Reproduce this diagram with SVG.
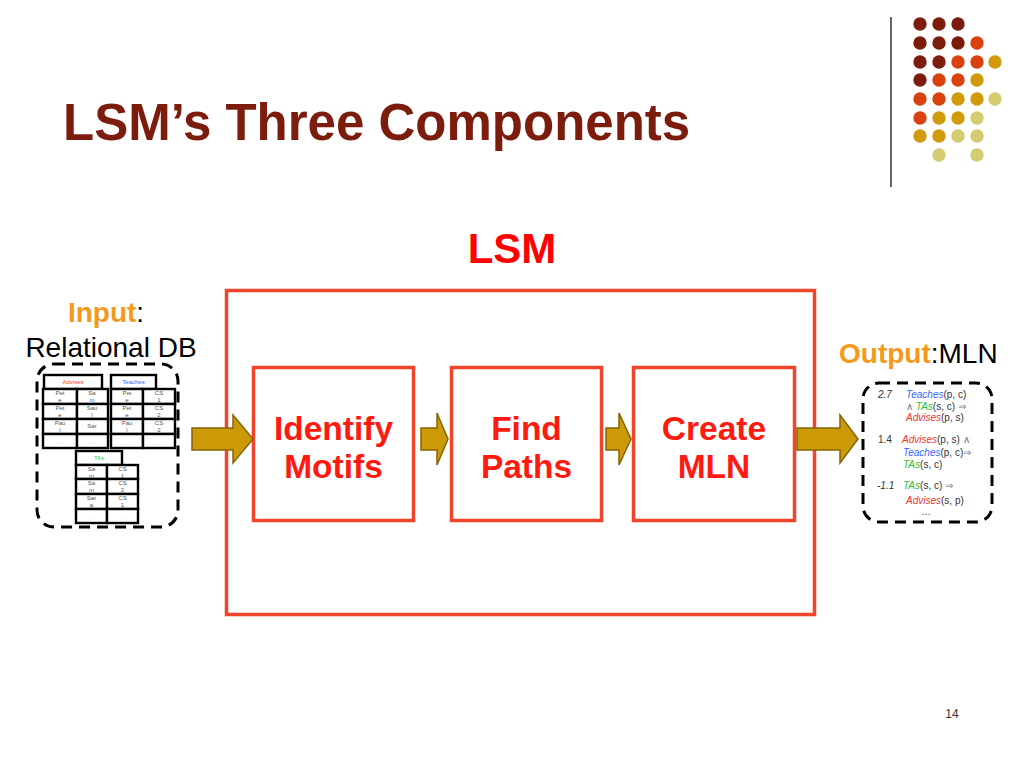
<svg xmlns="http://www.w3.org/2000/svg" width="1024" height="768" viewBox="0 0 1024 768">
<defs>
<style>
.t{font-family:"Liberation Sans",Arial,sans-serif}
.box{fill:none;stroke:#f0452a;stroke-width:3.5}
.lbl{font-family:"Liberation Sans",Arial,sans-serif;font-weight:bold;font-size:33.5px;fill:#ff1a10;text-anchor:middle}
.arr{fill:#cc9a06;stroke:#866400;stroke-width:1.5;stroke-linejoin:miter}
.dash{fill:none;stroke:#000;stroke-width:3;stroke-dasharray:11 7}
.cell{fill:#fff;stroke:#000;stroke-width:2.4}
.ct{font-family:"Liberation Sans",Arial,sans-serif;font-size:6px;fill:#555;text-anchor:middle}
.m{font-family:"Liberation Sans",Arial,sans-serif;font-size:10px;fill:#333}
.d1{fill:#7b1c0c}.d2{fill:#d9420f}.d3{fill:#d19a0a}.d4{fill:#d3cc70}
</style>
</defs>
<rect width="1024" height="768" fill="#fff"/>

<g id="decor">
<line x1="891" y1="17" x2="891" y2="187" stroke="#333" stroke-width="1.5"/>
<circle class="d1" cx="920" cy="24" r="6.7"/><circle class="d1" cx="939" cy="24" r="6.7"/><circle class="d1" cx="958" cy="24" r="6.7"/>
<circle class="d1" cx="920" cy="43" r="6.7"/><circle class="d1" cx="939" cy="43" r="6.7"/><circle class="d1" cx="958" cy="43" r="6.7"/><circle class="d2" cx="977" cy="43" r="6.7"/>
<circle class="d1" cx="920" cy="62" r="6.7"/><circle class="d1" cx="939" cy="62" r="6.7"/><circle class="d2" cx="958" cy="62" r="6.7"/><circle class="d2" cx="977" cy="62" r="6.7"/><circle class="d3" cx="995" cy="62" r="6.7"/>
<circle class="d1" cx="920" cy="80" r="6.7"/><circle class="d2" cx="939" cy="80" r="6.7"/><circle class="d2" cx="958" cy="80" r="6.7"/><circle class="d3" cx="977" cy="80" r="6.7"/>
<circle class="d2" cx="920" cy="99" r="6.7"/><circle class="d2" cx="939" cy="99" r="6.7"/><circle class="d3" cx="958" cy="99" r="6.7"/><circle class="d3" cx="977" cy="99" r="6.7"/><circle class="d4" cx="995" cy="99" r="6.7"/>
<circle class="d2" cx="920" cy="118" r="6.7"/><circle class="d3" cx="939" cy="118" r="6.7"/><circle class="d3" cx="958" cy="118" r="6.7"/><circle class="d4" cx="977" cy="118" r="6.7"/>
<circle class="d3" cx="920" cy="136" r="6.7"/><circle class="d3" cx="939" cy="136" r="6.7"/><circle class="d4" cx="958" cy="136" r="6.7"/><circle class="d4" cx="977" cy="136" r="6.7"/>
<circle class="d4" cx="939" cy="155" r="6.7"/><circle class="d4" cx="977" cy="155" r="6.7"/>
</g>

<g id="title">
<text class="t" x="63" y="140" font-size="51" font-weight="bold" fill="#7b1c0c">LSM’s Three Components</text>
</g>

<g id="lsm">
<text class="t" x="512" y="263" font-size="42" font-weight="bold" fill="#ff0000" text-anchor="middle">LSM</text>
<rect class="box" x="226.5" y="290.5" width="588" height="324"/>
</g>

<g id="input">
<text class="t" x="106" y="322" font-size="28" text-anchor="middle"><tspan font-weight="bold" fill="#f39a1c">Input</tspan><tspan fill="#000">:</tspan></text>
<text class="t" x="111" y="357" font-size="28" text-anchor="middle" fill="#000">Relational DB</text>
<rect class="dash" x="37" y="364" width="141" height="163" rx="17"/>
<g id="advises">
<rect class="cell" x="44" y="375" width="58" height="14"/>
<text class="ct" x="73" y="384" style="fill:#ff3333">Advises</text>
<rect class="cell" x="43" y="389" width="34" height="15"/><rect class="cell" x="77" y="389" width="31" height="15"/>
<rect class="cell" x="43" y="404" width="34" height="15"/><rect class="cell" x="77" y="404" width="31" height="15"/>
<rect class="cell" x="43" y="419" width="34" height="15"/><rect class="cell" x="77" y="419" width="31" height="15"/>
<rect class="cell" x="43" y="434" width="34" height="14"/><rect class="cell" x="77" y="434" width="31" height="14"/>
<text class="ct" x="60" y="395">Pet</text><text class="ct" x="60" y="402">e</text>
<text class="ct" x="92" y="395">Sa</text><text class="ct" x="92" y="402">m</text>
<text class="ct" x="60" y="410">Pet</text><text class="ct" x="60" y="417">e</text>
<text class="ct" x="92" y="410">Sau</text><text class="ct" x="92" y="417">l</text>
<text class="ct" x="60" y="425">Pau</text><text class="ct" x="60" y="432">l</text>
<text class="ct" x="92" y="428">Sar</text>
<text class="ct" x="60" y="444" style="fill:#bbb">…</text><text class="ct" x="92" y="444" style="fill:#bbb">…</text>
</g>
<g id="teaches">
<rect class="cell" x="111" y="375" width="45" height="14"/>
<text class="ct" x="133.5" y="384" style="fill:#3366ff">Teaches</text>
<rect class="cell" x="111" y="389" width="32" height="15"/><rect class="cell" x="143" y="389" width="32" height="15"/>
<rect class="cell" x="111" y="404" width="32" height="15"/><rect class="cell" x="143" y="404" width="32" height="15"/>
<rect class="cell" x="111" y="419" width="32" height="15"/><rect class="cell" x="143" y="419" width="32" height="15"/>
<rect class="cell" x="111" y="434" width="32" height="14"/><rect class="cell" x="143" y="434" width="32" height="14"/>
<text class="ct" x="127" y="395">Pet</text><text class="ct" x="127" y="402">e</text>
<text class="ct" x="159" y="395">CS</text><text class="ct" x="159" y="402">1</text>
<text class="ct" x="127" y="410">Pet</text><text class="ct" x="127" y="417">e</text>
<text class="ct" x="159" y="410">CS</text><text class="ct" x="159" y="417">2</text>
<text class="ct" x="127" y="425">Pau</text><text class="ct" x="127" y="432">l</text>
<text class="ct" x="159" y="425">CS</text><text class="ct" x="159" y="432">2</text>
<text class="ct" x="127" y="444" style="fill:#bbb">…</text><text class="ct" x="159" y="444" style="fill:#bbb">…</text>
</g>
<g id="tas">
<rect class="cell" x="76" y="451" width="46" height="14"/>
<text class="ct" x="99" y="460" style="fill:#33cc33">TAs</text>
<rect class="cell" x="76" y="465" width="31" height="14"/><rect class="cell" x="107" y="465" width="31" height="14"/>
<rect class="cell" x="76" y="479" width="31" height="15"/><rect class="cell" x="107" y="479" width="31" height="15"/>
<rect class="cell" x="76" y="494" width="31" height="15"/><rect class="cell" x="107" y="494" width="31" height="15"/>
<rect class="cell" x="76" y="509" width="31" height="14"/><rect class="cell" x="107" y="509" width="31" height="14"/>
<text class="ct" x="91.5" y="471">Sa</text><text class="ct" x="91.5" y="478">m</text>
<text class="ct" x="122.5" y="471">CS</text><text class="ct" x="122.5" y="478">1</text>
<text class="ct" x="91.5" y="485">Sa</text><text class="ct" x="91.5" y="492">m</text>
<text class="ct" x="122.5" y="485">CS</text><text class="ct" x="122.5" y="492">2</text>
<text class="ct" x="91.5" y="500">Sar</text><text class="ct" x="91.5" y="507">a</text>
<text class="ct" x="122.5" y="500">CS</text><text class="ct" x="122.5" y="507">1</text>
<text class="ct" x="91.5" y="519" style="fill:#bbb">…</text><text class="ct" x="122.5" y="519" style="fill:#bbb">…</text>
</g>
</g>

<g id="identify">
<rect class="box" x="253.5" y="367.5" width="160" height="153"/>
<text class="lbl" x="333.5" y="440">Identify</text>
<text class="lbl" x="333.5" y="478">Motifs</text>
</g>
<g id="find">
<rect class="box" x="451.5" y="367.5" width="150" height="153"/>
<text class="lbl" x="526.5" y="440">Find</text>
<text class="lbl" x="526.5" y="478">Paths</text>
</g>
<g id="create">
<rect class="box" x="633.5" y="367.5" width="161" height="153"/>
<text class="lbl" x="714" y="440">Create</text>
<text class="lbl" x="714" y="478">MLN</text>
</g>

<g id="connectors">
<polygon class="arr" points="192,428 233,428 233,415 253,439 233,463 233,450 192,450"/>
<polygon class="arr" points="421,428 437,428 437,413 448,439 437,465 437,450 421,450"/>
<polygon class="arr" points="606,428 619,428 619,413 631,439 619,465 619,450 606,450"/>
<polygon class="arr" points="797,428 840,428 840,415 858,439 840,463 840,450 797,450"/>
</g>

<g id="output">
<text class="t" x="839" y="363" font-size="28"><tspan font-weight="bold" fill="#f39a1c">Output</tspan><tspan fill="#000">:MLN</tspan></text>
<rect class="dash" x="863" y="383" width="129" height="139" rx="16"/>
<text class="m" x="878" y="398" font-style="italic">2.7</text>
<text class="m" x="906" y="398"><tspan fill="#3366ff" font-style="italic">Teaches</tspan>(p, c)</text>
<text class="m" x="906" y="410"><tspan fill="#777">∧ </tspan><tspan fill="#33bb33" font-style="italic">TAs</tspan>(s, c) <tspan fill="#777">⇒</tspan></text>
<text class="m" x="906" y="421"><tspan fill="#ee3333" font-style="italic">Advises</tspan>(p, s)</text>
<text class="m" x="878" y="443">1.4</text>
<text class="m" x="902" y="443"><tspan fill="#ee3333" font-style="italic">Advises</tspan>(p, s) <tspan fill="#777">∧</tspan></text>
<text class="m" x="903" y="456"><tspan fill="#3366ff" font-style="italic">Teaches</tspan>(p, c)<tspan fill="#777">⇒</tspan></text>
<text class="m" x="903" y="468"><tspan fill="#33bb33" font-style="italic">TAs</tspan>(s, c)</text>
<text class="m" x="877" y="489" font-style="italic">-1.1</text>
<text class="m" x="903" y="489"><tspan fill="#33bb33" font-style="italic">TAs</tspan>(s, c) <tspan fill="#777">⇒</tspan></text>
<text class="m" x="906" y="504"><tspan fill="#ee3333" font-style="italic">Advises</tspan>(s, p)</text>
<text class="m" x="921" y="515">…</text>
</g>

<g id="page">
<text class="t" x="952" y="718" font-size="12" fill="#333" text-anchor="middle">14</text>
</g>
</svg>
